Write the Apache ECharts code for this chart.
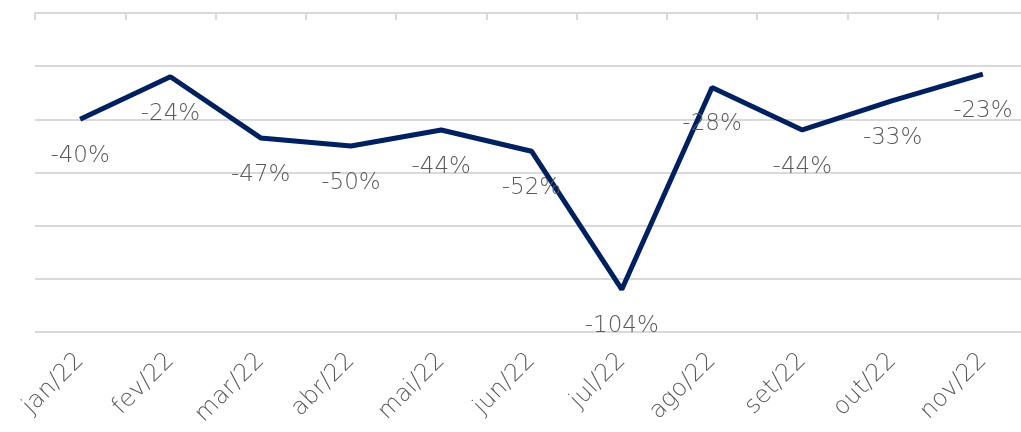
<!DOCTYPE html>
<html>
<head>
<meta charset="utf-8">
<script src="https://cdn.jsdelivr.net/npm/echarts@6/dist/echarts.min.js"></script>
<style>html,body{margin:0;padding:0;background:#fff}#c{width:1021px;height:432px}</style>
</head>
<body>
<div id="c"></div>
<script>
const categories = ['jan/22','fev/22','mar/22','abr/22','mai/22','jun/22','jul/22','ago/22','set/22','out/22','nov/22'];
const values = [-40, -24, -47, -50, -44, -52, -104, -28, -44, -33, -23];
const yMin = -120, yMax = 0, yStep = 20;

const chart = echarts.init(document.getElementById('c'));
chart.setOption({
  animation: false,
  grid: { left: 35, width: 993, top: 13, bottom: 100, outerBoundsMode: 'none', containLabel: false },
  xAxis: [
    {
      type: 'category', data: categories, position: 'bottom', boundaryGap: true,
      axisLine: { show: false }, axisTick: { show: false },
      axisLabel: { rotate: 45, margin: 25, color: '#595959', fontSize: 24, fontFamily: 'DejaVu Sans', fontWeight: 200 }
    },
    {
      type: 'category', data: categories, position: 'top', boundaryGap: true,
      axisLine: { show: true, lineStyle: { color: '#d9d9d9', width: 2 } },
      axisTick: { show: true, inside: true, length: 7, lineStyle: { color: '#d9d9d9', width: 2 } },
      axisLabel: { show: false }
    }
  ],
  yAxis: {
    type: 'value', min: yMin, max: yMax, interval: yStep,
    axisLine: { show: false }, axisTick: { show: false }, axisLabel: { show: false },
    splitLine: { lineStyle: { color: '#d9d9d9', width: 2 } }
  },
  series: [{
    type: 'line', data: values, xAxisIndex: 0,
    showSymbol: true, symbol: 'circle', symbolSize: 1,
    itemStyle: { color: 'rgba(0,32,96,0)', borderWidth: 0 },
    lineStyle: { color: '#002060', width: 5 },
    label: {
      show: true, position: 'bottom', distance: 25,
      formatter: p => p.value + '%',
      color: '#595959', fontSize: 23, fontFamily: 'DejaVu Sans', fontWeight: 200
    },
    labelLayout: { hideOverlap: false }
  }]
});
</script>
</body>
</html>
